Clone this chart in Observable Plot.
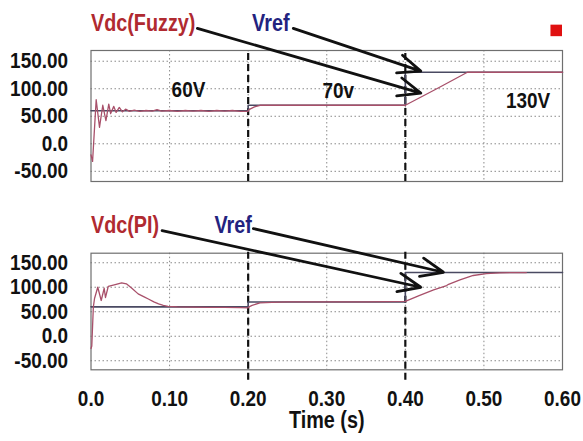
<!DOCTYPE html>
<html>
<head>
<meta charset="utf-8">
<script src="https://cdn.jsdelivr.net/npm/d3@7"></script>
<script src="https://cdn.jsdelivr.net/npm/@observablehq/plot@0.6"></script>
<style>
  html, body { margin: 0; padding: 0; background: #fff; }
  #chart { width: 583px; height: 441px; overflow: hidden; }
  #chart svg { display: block; overflow: visible; }
</style>
</head>
<body>
<div id="chart"></div>
<script>
// ---- data ----
const xTicks = [0, 0.1, 0.2, 0.3, 0.4, 0.5, 0.6];
const xTickLabels = ["0.0", "0.10", "0.20", "0.30", "0.40", "0.50", "0.60"];
const yTicks = [150, 100, 50, 0, -50];
const yTickLabels = ["150.00", "100.00", "50.00", "0.0", "-50.00"];
const stepTimes = [0.2, 0.4];

// reference voltage (step-after)
const vrefT = [0, 0.2, 0.4, 0.6];
const vrefV = [60, 70, 130, 130];

// Vdc with fuzzy controller
const fuzzyT = [0, 0.002, 0.0066, 0.0108, 0.015, 0.019, 0.0226, 0.025, 0.029, 0.032, 0.036, 0.04, 0.044, 0.049,
  0.055, 0.062, 0.07, 0.078, 0.084, 0.09, 0.1, 0.11, 0.12, 0.13, 0.14, 0.15, 0.16, 0.17, 0.18, 0.19, 0.2,
  0.201, 0.208, 0.215, 0.22, 0.3, 0.4, 0.44, 0.479, 0.52, 0.6];
const fuzzyV = [-20, -32, 80, 30, 70, 42, 72, 55, 68, 57, 66, 58, 63, 59,
  61, 59, 60.5, 59.5, 62, 59.5, 60.5, 59, 60.5, 59.5, 60.5, 59, 60.5, 59.5, 60.5, 59, 59,
  62, 67, 70, 70, 70, 70, 100, 130, 130, 130];

// Vdc with PI controller
const piT = [0, 0.001, 0.003, 0.0045, 0.0086, 0.013, 0.0168, 0.0184, 0.022, 0.027, 0.032, 0.039, 0.045, 0.052,
  0.06, 0.067, 0.073, 0.08, 0.086, 0.092, 0.098, 0.11, 0.13, 0.15, 0.17, 0.19, 0.2,
  0.201, 0.205, 0.215, 0.23, 0.25, 0.3, 0.35, 0.4, 0.4175, 0.436, 0.4526, 0.455, 0.4695, 0.4864, 0.503, 0.52, 0.554];
const piV = [-25, -20, 60, 77, 100, 73, 98, 79, 102, 104, 106, 109, 107, 98,
  86.5, 81, 76, 70, 66, 63, 61, 60, 59.5, 59, 59, 58.5, 58,
  60, 63, 68, 69, 70, 70, 70, 71, 83, 94.7, 103.5, 106, 115, 124, 128, 129.5, 130];

// annotations (data units)
const topLabels = ["Vdc(Fuzzy)", "Vref"];
const topLabelX = [0, 0.205];
const topLabelY = [218.7, 218.7];
const topArrowX1 = [0.1354, 0.2574], topArrowY1 = [209.6, 209.6];
const topArrowX2 = [0.4197, 0.4197], topArrowY2 = [92, 132];
const levelLabels = ["60V", "70v", "130V"];
const levelX = [0.124, 0.3146, 0.5562];
const levelY = [98.2, 96.9, 77];
const markerX = [0.592], markerY = [206];

const botLabels = ["Vdc(PI)", "Vref"];
const botLabelX = [0, 0.157];
const botLabelY = [225.9, 225.9];
const botArrowX1 = [0.0905, 0.2066], botArrowY1 = [215.7, 219.8];
const botArrowX2 = [0.4197, 0.4485], botArrowY2 = [100, 130.6];

const labelColors = ["#b02a30", "#23237f"];
const xLabel = "Time (s)";

// ---- build tables ----
const vref = vrefT.map((t, i) => ({t, v: vrefV[i]}));
const fuzzy = fuzzyT.map((t, i) => ({t, v: fuzzyV[i]}));
const pi = piT.map((t, i) => ({t, v: piV[i]}));
const idx = a => a.map((_, i) => i);

const FONT = "'Liberation Sans', Arial, sans-serif";
const CONDENSE = 0.86;
const gridStyle = {stroke: "#8a8a8a", strokeOpacity: 1, strokeDasharray: "1.5,2.5", strokeWidth: 1};
const yFmt = d => yTickLabels[yTicks.indexOf(d)];
const xFmt = d => xTickLabels[xTicks.findIndex(t => Math.abs(t - d) < 1e-9)];

function panel({height, marginTop, marginBottom, series, labels, labelX, labelY, ax1, ay1, ax2, ay2, ruleY1, ruleY2, top}) {
  const marks = [
    Plot.gridX(xTicks.slice(1, -1), gridStyle),
    Plot.gridY(yTicks, gridStyle),
    Plot.frame({stroke: "#6f6f6f", strokeWidth: 1.2}),
    Plot.axisY(yTicks, {tickSize: 0, tickPadding: 23, tickFormat: yFmt, fill: "#111", label: null}),
    Plot.ruleX(stepTimes, {y1: ruleY1, y2: ruleY2, stroke: "#111", strokeWidth: 2.2, strokeDasharray: "7,4"}),
    Plot.line(vref, {x: "t", y: "v", curve: "step-after", stroke: "#4a4a62", strokeWidth: 1.6}),
    Plot.line(series, {x: "t", y: "v", stroke: "#a8506a", strokeWidth: 1.3}),
    Plot.arrow(idx(ax1), {x1: i => ax1[i], y1: i => ay1[i], x2: i => ax2[i], y2: i => ay2[i],
      stroke: "#111", strokeWidth: 2.8, headLength: 13, headAngle: 45}),
    Plot.text(idx(labels), {x: i => labelX[i], y: i => labelY[i], text: i => labels[i],
      fill: i => labelColors[i], textAnchor: "start", fontSize: 23, fontWeight: "bold"})
  ];
  if (top) {
    marks.push(Plot.text(idx(levelLabels), {x: i => levelX[i], y: i => levelY[i], text: i => levelLabels[i],
      fill: "#111", fontSize: 22, fontWeight: "bold"}));
    marks.push(Plot.dot(idx(markerX), {x: i => markerX[i], y: i => markerY[i], symbol: "square", r: 6.5,
      fill: "#e01010", stroke: "none"}));
  } else {
    marks.push(Plot.axisX(xTicks, {tickSize: 0, tickPadding: 21, tickFormat: xFmt, fill: "#111", label: null}));
    marks.push(Plot.text([xLabel], {frameAnchor: "bottom", dy: 58, fill: "#111", fontSize: 23, fontWeight: "bold"}));
  }
  return Plot.plot({
    width: 583, height,
    marginLeft: 90.5, marginRight: 21, marginTop, marginBottom,
    x: {domain: [0, 0.6], axis: top ? null : undefined},
    y: {domain: [-68.5, 169.5]},
    style: {fontFamily: FONT, fontSize: "22px", fontWeight: "bold", color: "#111", background: "#fff", overflow: "visible"},
    marks
  });
}

const chart = document.getElementById("chart");
chart.append(panel({
  height: 200, marginTop: 50, marginBottom: 19, series: fuzzy,
  labels: topLabels, labelX: topLabelX, labelY: topLabelY,
  ax1: topArrowX1, ay1: topArrowY1, ax2: topArrowX2, ay2: topArrowY2,
  ruleY1: -68.5, ruleY2: i => (i === 1 ? 180 : 169.5), top: true
}));
chart.append(panel({
  height: 241, marginTop: 52.7, marginBottom: 71.7, series: pi,
  labels: botLabels, labelX: botLabelX, labelY: botLabelY,
  ax1: botArrowX1, ay1: botArrowY1, ax2: botArrowX2, ay2: botArrowY2,
  ruleY1: -90, ruleY2: i => (i === 1 ? 189 : 179), top: false
}));

// condense all text (the reference uses a narrow bold face)
chart.querySelectorAll("svg text").forEach(t => {
  const spans = t.querySelectorAll("tspan");
  const targets = spans.length ? Array.from(spans) : [t];
  targets.forEach(el => {
    const len = el.getComputedTextLength();
    if (len > 0) {
      el.setAttribute("textLength", (len * CONDENSE).toFixed(2));
      el.setAttribute("lengthAdjust", "spacingAndGlyphs");
    }
  });
});
</script>
</body>
</html>
